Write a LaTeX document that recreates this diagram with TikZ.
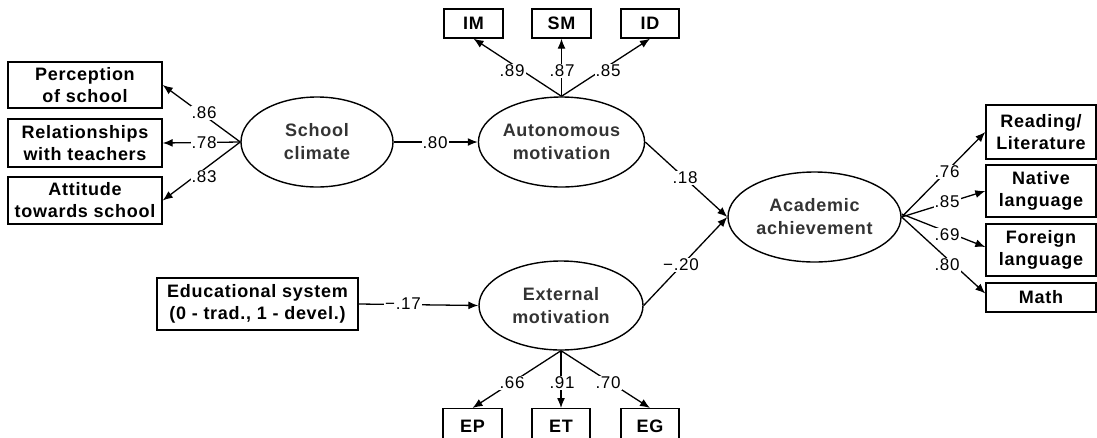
\documentclass[tikz,border=0pt]{standalone}
\usepackage{fontspec}
\setmainfont{Liberation Sans}
\newfontfamily\spacedfont[LetterSpace=4]{Liberation Sans}
\usetikzlibrary{arrows.meta,shapes.geometric}
\begin{document}
\begin{tikzpicture}[x=1pt,y=-1pt,
 box/.style={draw, line width=1.4pt, fill=white, align=center, inner sep=0pt, font=\spacedfont\bfseries\fontsize{18}{22}\selectfont},
 lat/.style={draw, ellipse, line width=1.4pt, align=center, inner sep=0pt, text=black!80, font=\spacedfont\bfseries\fontsize{18}{23}\selectfont},
 lbl/.style={fill=white, inner sep=1pt, font=\spacedfont\fontsize{17}{18}\selectfont},
 arr/.style={line width=1.3pt, -{Latex[length=10pt,width=8pt]}},
 ln/.style={line width=1.3pt}]
\useasboundingbox (0,0) rectangle (1097,437);
\clip (0,0) rectangle (1097,437);
% left indicator boxes
\node[box, minimum width=154, minimum height=46] (perc) at (85,85) {Perception\\of school};
\node[box, minimum width=154, minimum height=48] (rel) at (85,143) {Relationships\\with teachers};
\node[box, minimum width=154, minimum height=47] (att) at (85,200.5) {Attitude\\towards school};
% top boxes
\node[box, minimum width=59, minimum height=29] (im) at (473.5,23.5) {IM};
\node[box, minimum width=59, minimum height=29] (sm) at (561.5,23.5) {SM};
\node[box, minimum width=58, minimum height=29] (id) at (650,23.5) {ID};
% right boxes
\node[box, minimum width=110, minimum height=54] (read) at (1041,132) {Reading/\\Literature};
\node[box, minimum width=110, minimum height=52] (nat) at (1041,191) {Native\\language};
\node[box, minimum width=110, minimum height=52] (for) at (1041,250) {Foreign\\language};
\node[box, minimum width=110, minimum height=29] (math) at (1041,297.5) {Math};
% educational system
\node[box, minimum width=201, minimum height=52] (edu) at (257.5,304) {Educational system\\(0 - trad., 1 - devel.)};
% bottom boxes
\node[box, minimum width=59, minimum height=34, text height=13pt, anchor=north] (ep) at (472.5,408) {EP};
\node[box, minimum width=58, minimum height=34, text height=13pt, anchor=north] (et) at (561,408) {ET};
\node[box, minimum width=58, minimum height=34, text height=13pt, anchor=north] (eg) at (650,408) {EG};
% latent variables
\node[lat, minimum width=152, minimum height=90] (sc) at (317,142) {School\\climate};
\node[lat, minimum width=163, minimum height=90] (aut) at (561.5,142) {Autonomous\\motivation};
\node[lat, minimum width=164, minimum height=89] (ext) at (561,305.5) {External\\motivation};
\node[lat, minimum width=173, minimum height=90] (acad) at (814.5,217) {Academic\\achievement};
% connectors
\draw[arr] (sc.west) -- (perc.east);
\draw[arr] (sc.west) -- (rel.east);
\draw[arr] (sc.west) -- (att.east);
\draw[arr] (sc.east) -- (aut.west);
\draw[arr] (aut.north) -- (im.south);
\draw[arr] (aut.north) -- (sm.south);
\draw[arr] (aut.north) -- (id.south);
\draw[arr] (aut.east) -- (acad.west);
\draw[arr] (ext.east) -- (acad.west);
\draw[arr] (edu.east) -- (ext.west);
\draw[arr] (ext.south) -- (ep.north);
\draw[arr] (ext.south) -- (et.north);
\draw[arr] (ext.south) -- (eg.north);
\draw[arr] (acad.east) -- (read.west);
\draw[arr] (acad.east) -- (nat.west);
\draw[arr] ([yshift=3pt]acad.east) -- ([yshift=3pt]for.west);
\draw[arr] (acad.east) -- ([yshift=4pt]math.west);
% labels
\node[lbl] (l86) at (204,113) {.86};
\node[lbl] (l78) at (204,143) {.78};
\node[lbl] (l83) at (204,177) {.83};
\node[lbl] (l80a) at (435,143) {.80};
\node[lbl] (l89) at (512,71) {.89};
\node[lbl] (l87) at (562,71) {.87};
\node[lbl] (l85a) at (608,71) {.85};
\node[lbl] (l18) at (685,178) {.18};
\node[lbl] (l20) at (681,265) {\char"2212.20};
\node[lbl] (l17) at (403,304) {\char"2212.17};
\node[lbl] (l66) at (512,383) {.66};
\node[lbl] (l91) at (562,383) {.91};
\node[lbl] (l70) at (608,383) {.70};
\node[lbl] (l76) at (947,172) {.76};
\node[lbl] (l85b) at (947,202) {.85};
\node[lbl] (l69) at (947,235) {.69};
\node[lbl] (l80b) at (947,265) {.80};
\end{tikzpicture}
\end{document}
